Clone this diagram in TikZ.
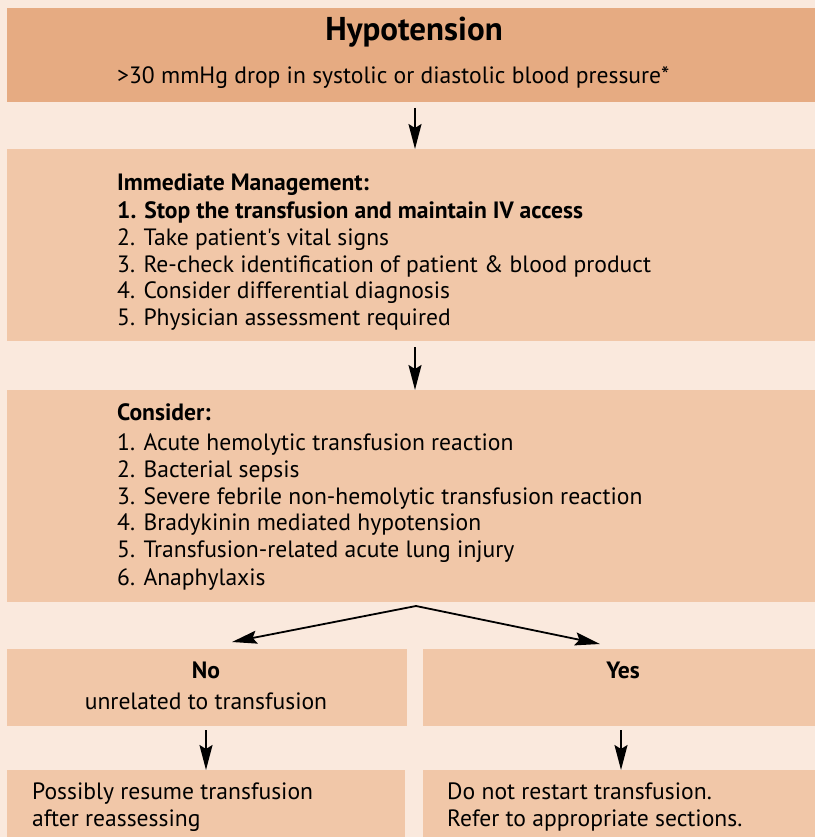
\documentclass[tikz,border=0pt]{standalone}
\usepackage{fontspec}
\setmainfont{PT Sans}[Ligatures=TeXOff]
\usetikzlibrary{arrows.meta,calc}
\definecolor{bgc}{HTML}{FAE9DD}
\definecolor{hdrc}{HTML}{E6AB82}
\definecolor{boxc}{HTML}{F1C7A8}
\newcommand{\bodyfont}{\fontsize{23.6}{27}\selectfont}
\begin{document}
\begin{tikzpicture}[x=1pt,y=-1pt]
\tikzset{
 panel/.style={rectangle, fill=boxc, draw=none, inner sep=0pt, anchor=north west},
 txt/.style={anchor=base west, inner sep=0pt, font=\bodyfont},
 btxt/.style={txt, font=\bodyfont\bfseries},
 ctxt/.style={anchor=base, inner sep=0pt, font=\bodyfont},
 cbtxt/.style={ctxt, font=\bodyfont\bfseries},
 arr/.style={line width=1.8pt, -{Stealth[length=25pt,width=13pt,inset=4pt]}},
}
\fill[bgc] (0,0) rectangle (815,837);
\useasboundingbox (0,0) rectangle (815,837);
% boxes
\node[panel, fill=hdrc, minimum width=808pt, minimum height=94pt] (hdr) at (7,8) {};
\node[panel, minimum width=808pt, minimum height=192pt] (mgmt) at (7,149) {};
\node[panel, minimum width=808pt, minimum height=212pt] (cons) at (7,390) {};
\node[panel, minimum width=400pt, minimum height=77pt] (no) at (7,649) {};
\node[panel, minimum width=392pt, minimum height=77pt] (yes) at (423,649) {};
\node[panel, minimum width=398pt, minimum height=70pt] (resume) at (7,770) {};
\node[panel, minimum width=392pt, minimum height=70pt] (restart) at (423,770) {};
% header text
\node[cbtxt, font=\fontsize{33}{36}\selectfont\bfseries] (title) at (414,41) {Hypotension};
\node[txt] (sub) at (117,84) {>30 mmHg drop in systolic or diastolic blood pressure*};
% management
\node[btxt] (m0) at (117,190) {Immediate Management:};
\node[btxt] (m1) at (117,218) {1. Stop the transfusion and maintain IV access};
\node[txt] (m2) at (117,245) {2. Take patient's vital signs};
\node[txt] (m3) at (117,272) {3. Re-check identification of patient \& blood product};
\node[txt] (m4) at (117,298) {4. Consider differential diagnosis};
\node[txt] (m5) at (117,325) {5. Physician assessment required};
% consider
\node[btxt] (c0) at (117,420) {Consider:};
\node[txt] (c1) at (117,450) {1. Acute hemolytic transfusion reaction};
\node[txt] (c2) at (117,477) {2. Bacterial sepsis};
\node[txt] (c3) at (117,504) {3. Severe febrile non-hemolytic transfusion reaction};
\node[txt] (c4) at (117,530) {4. Bradykinin mediated hypotension};
\node[txt] (c5) at (117,557) {5. Transfusion-related acute lung injury};
\node[txt] (c6) at (117,585) {6. Anaphylaxis};
% no / yes
\node[cbtxt] (nol) at (206,678) {No};
\node[ctxt] (nos) at (206,709) {unrelated to transfusion};
\node[cbtxt] (yesl) at (623,678) {Yes};
% bottom
\node[txt] (r1) at (32,799) {Possibly resume transfusion};
\node[txt] (r2) at (32,826) {after reassessing};
\node[txt] (s1) at (447,799) {Do not restart transfusion.};
\node[txt] (s2) at (447,826) {Refer to appropriate sections.};
% connectors
\coordinate (a1s) at (415,108);
\coordinate (a2s) at (415,347);
\coordinate (apex) at (416,606);
\coordinate (tipno) at (232,642);
\coordinate (tipyes) at (600,644);
\coordinate (a3s) at (206,730);
\coordinate (a4s) at (621,730);
\draw[arr] (a1s) -- (a1s |- mgmt.north) ;
\draw[arr] (a2s) -- (a2s |- cons.north);
\draw[arr] (apex) -- (tipno);
\draw[arr] (apex) -- (tipyes);
\draw[arr] (a3s) -- (a3s |- resume.north);
\draw[arr] (a4s) -- (a4s |- restart.north);
\end{tikzpicture}
\end{document}
